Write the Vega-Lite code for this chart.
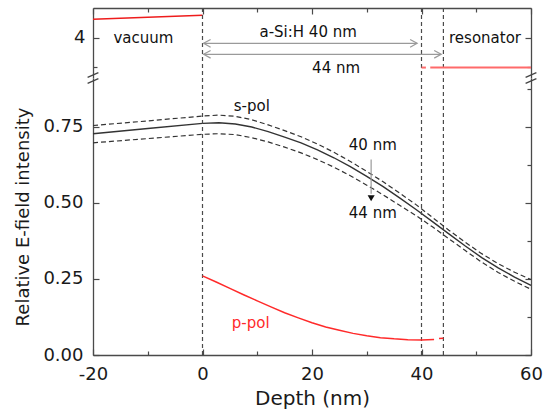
{
  "$schema": "https://vega.github.io/schema/vega-lite/v6.json",
  "padding": {"left": 14, "top": 7, "right": 8, "bottom": 5},
  "spacing": 0,
  "bounds": "flush",
  "background": "white",
  "config": {
    "font": "DejaVu Sans",
    "view": {"stroke": null},
    "axis": {
      "grid": false,
      "domainColor": "#4a4a4a",
      "domainWidth": 1.3,
      "tickColor": "#4a4a4a",
      "tickWidth": 1.2,
      "labelColor": "#1a1a1a",
      "titleColor": "#1a1a1a",
      "labelFont": "DejaVu Sans",
      "titleFont": "DejaVu Sans",
      "labelFontSize": 18,
      "titleFontWeight": "normal",
      "titleFontSize": 19,
      "labelFlush": false,
      "labelOverlap": false
    },
    "text": {"font": "DejaVu Sans", "fontSize": 15, "color": "#111111"}
  },
  "datasets": {
    "vlines": [{"x": 0}, {"x": 40}, {"x": 44}],
    "vac": [{"x": -20, "y": 4.322}, {"x": 0, "y": 4.391}],
    "res": [
      {"x": 40.0, "y": 3.49, "g": "a"}, {"x": 40.8, "y": 3.49, "g": "a"},
      {"x": 41.6, "y": 3.49, "g": "b"}, {"x": 60, "y": 3.49, "g": "b"}
    ],
    "arrows": [{"x": 0.2, "x2": 39.2, "y": 3.908}, {"x": 0.2, "x2": 43.6, "y": 3.719}],
    "heads": [
      {"x": 0.2, "y": 3.908, "dir": "l"}, {"x": 39.2, "y": 3.908, "dir": "r"},
      {"x": 0.2, "y": 3.719, "dir": "l"}, {"x": 43.6, "y": 3.719, "dir": "r"}
    ],
    "utxt": [
      {"x": -10.8, "y": 4.005, "label": "vacuum"},
      {"x": 19.3, "y": 4.103, "label": "a-Si:H 40 nm"},
      {"x": 24.4, "y": 3.488, "label": "44 nm"},
      {"x": 51.6, "y": 3.999, "label": "resonator"}
    ],
    "solid": [
      {"x": -20, "y": 0.727}, {"x": -10, "y": 0.744}, {"x": 0, "y": 0.761}, {"x": 3, "y": 0.763},
      {"x": 6, "y": 0.759}, {"x": 9, "y": 0.749}, {"x": 12, "y": 0.734}, {"x": 15, "y": 0.716},
      {"x": 18, "y": 0.697}, {"x": 21, "y": 0.674}, {"x": 24, "y": 0.648}, {"x": 27, "y": 0.619},
      {"x": 30, "y": 0.587}, {"x": 33, "y": 0.553}, {"x": 36, "y": 0.516}, {"x": 39, "y": 0.478},
      {"x": 42, "y": 0.438}, {"x": 45, "y": 0.398}, {"x": 48, "y": 0.358}, {"x": 51, "y": 0.32},
      {"x": 54, "y": 0.286}, {"x": 57, "y": 0.256}, {"x": 60, "y": 0.229}
    ],
    "d40": [
      {"x": -20, "y": 0.754}, {"x": -10, "y": 0.769}, {"x": 0, "y": 0.785}, {"x": 3, "y": 0.788},
      {"x": 6, "y": 0.784}, {"x": 9, "y": 0.773}, {"x": 12, "y": 0.756}, {"x": 15, "y": 0.737},
      {"x": 18, "y": 0.717}, {"x": 21, "y": 0.693}, {"x": 24, "y": 0.666}, {"x": 27, "y": 0.636},
      {"x": 30, "y": 0.603}, {"x": 33, "y": 0.569}, {"x": 36, "y": 0.532}, {"x": 39, "y": 0.494},
      {"x": 42, "y": 0.452}, {"x": 45, "y": 0.41}, {"x": 48, "y": 0.37}, {"x": 51, "y": 0.333},
      {"x": 54, "y": 0.3}, {"x": 57, "y": 0.272}, {"x": 60, "y": 0.248}
    ],
    "d44": [
      {"x": -20, "y": 0.697}, {"x": -10, "y": 0.711}, {"x": 0, "y": 0.725}, {"x": 3, "y": 0.727},
      {"x": 6, "y": 0.724}, {"x": 9, "y": 0.714}, {"x": 12, "y": 0.7}, {"x": 15, "y": 0.683},
      {"x": 18, "y": 0.664}, {"x": 21, "y": 0.642}, {"x": 24, "y": 0.617}, {"x": 27, "y": 0.589},
      {"x": 30, "y": 0.558}, {"x": 33, "y": 0.526}, {"x": 36, "y": 0.492}, {"x": 39, "y": 0.458},
      {"x": 42, "y": 0.421}, {"x": 45, "y": 0.382}, {"x": 48, "y": 0.343}, {"x": 51, "y": 0.305},
      {"x": 54, "y": 0.271}, {"x": 57, "y": 0.242}, {"x": 60, "y": 0.216}
    ],
    "ppol": [
      {"x": 0, "y": 0.26, "g": "a"}, {"x": 2.5, "y": 0.24, "g": "a"}, {"x": 5, "y": 0.219, "g": "a"},
      {"x": 7.5, "y": 0.198, "g": "a"}, {"x": 10, "y": 0.178, "g": "a"}, {"x": 12.5, "y": 0.158, "g": "a"},
      {"x": 15, "y": 0.139, "g": "a"}, {"x": 17.5, "y": 0.122, "g": "a"}, {"x": 20, "y": 0.106, "g": "a"},
      {"x": 22.5, "y": 0.092, "g": "a"}, {"x": 25, "y": 0.081, "g": "a"}, {"x": 27.5, "y": 0.071, "g": "a"},
      {"x": 30, "y": 0.063, "g": "a"}, {"x": 32.5, "y": 0.057, "g": "a"}, {"x": 35, "y": 0.053, "g": "a"},
      {"x": 37.5, "y": 0.05, "g": "a"}, {"x": 40, "y": 0.049, "g": "a"}, {"x": 42.3, "y": 0.051, "g": "a"},
      {"x": 43.2, "y": 0.054, "g": "b"}, {"x": 44, "y": 0.055, "g": "b"}
    ],
    "darrow": [{"x": 30.8, "y": 0.642, "y2": 0.53}],
    "tri": [{"x": 30.8, "y": 0.515}],
    "ltxt": [
      {"x": 9.0, "y": 0.818, "label": "s-pol"},
      {"x": 31.1, "y": 0.69, "label": "40 nm"},
      {"x": 31.1, "y": 0.467, "label": "44 nm"},
      {"x": 8.8, "y": 0.106, "label": "p-pol"}
    ],
    "brk": [{"x": -20, "y": 0.91}, {"x": 60, "y": 0.91}]
  },
  "vconcat": [
    {
      "width": 438,
      "height": 70,
      "resolve": {"axis": {"y": "independent"}},
      "layer": [
        {
          "layer": [
            {
              "data": {"name": "vac"},
              "mark": {"type": "line", "color": "#ee1c1c", "strokeWidth": 1.5},
              "encoding": {
                "x": {
                  "field": "x", "type": "quantitative",
                  "scale": {"domain": [-20, 60], "nice": false, "zero": false},
                  "axis": {
                    "orient": "top", "title": null, "labels": false,
                    "values": [-20, -10, 0, 10, 20, 30, 40, 50, 60],
                    "tickSize": {"condition": {"test": "datum.value % 20 === 0", "value": -6}, "value": -4}
                  }
                },
                "y": {
                  "field": "y", "type": "quantitative",
                  "scale": {"domain": [3.31, 4.517], "nice": false, "zero": false},
                  "axis": {
                    "orient": "left", "title": null, "values": [3.5, 4],
                    "labelExpr": "datum.value === 4 ? '4' : ''",
                    "labelPadding": 14,
                    "tickSize": {"condition": {"test": "datum.value === 4", "value": -6}, "value": -4}
                  }
                }
              }
            },
            {
              "data": {"name": "vlines"},
              "mark": {"type": "rule", "color": "#4a4a4a", "strokeDash": [4, 3], "strokeWidth": 1.2},
              "encoding": {"x": {"field": "x", "type": "quantitative"}}
            },
            {
              "data": {"name": "res"},
              "mark": {"type": "line", "color": "#ff6a6a", "strokeWidth": 2},
              "encoding": {
                "x": {"field": "x", "type": "quantitative"},
                "y": {"field": "y", "type": "quantitative"},
                "detail": {"field": "g"}
              }
            },
            {
              "data": {"name": "arrows"},
              "mark": {"type": "rule", "color": "#9a9a9a", "strokeWidth": 1.2},
              "encoding": {
                "x": {"field": "x", "type": "quantitative"},
                "x2": {"field": "x2"},
                "y": {"field": "y", "type": "quantitative"}
              }
            },
            {
              "data": {"name": "heads"},
              "mark": {"type": "point", "filled": false, "color": "#9a9a9a", "strokeWidth": 1.2, "size": 49, "opacity": 1},
              "encoding": {
                "x": {"field": "x", "type": "quantitative"},
                "y": {"field": "y", "type": "quantitative"},
                "shape": {
                  "field": "dir", "type": "nominal", "legend": null,
                  "scale": {"domain": ["l", "r"], "range": ["M2,-1.1L0,0L2,1.1", "M-2,-1.1L0,0L-2,1.1"]}
                }
              }
            },
            {
              "data": {"name": "utxt"},
              "mark": {"type": "text", "align": "center", "baseline": "middle"},
              "encoding": {
                "x": {"field": "x", "type": "quantitative"},
                "y": {"field": "y", "type": "quantitative"},
                "text": {"field": "label"}
              }
            }
          ]
        },
        {
          "data": {"name": "vac"},
          "mark": {"type": "point", "opacity": 0},
          "encoding": {
            "x": {"field": "x", "type": "quantitative"},
            "y": {
              "field": "y", "type": "quantitative",
              "axis": {
                "orient": "right", "title": null, "labels": false, "values": [3.5, 4],
                "tickSize": {"condition": {"test": "datum.value === 4", "value": -6}, "value": -4}
              }
            }
          }
        }
      ]
    },
    {
      "width": 438,
      "height": 277,
      "resolve": {"axis": {"y": "independent"}},
      "layer": [
        {
          "layer": [
            {
              "data": {"name": "solid"},
              "mark": {"type": "line", "color": "#333333", "strokeWidth": 1.4},
              "encoding": {
                "x": {
                  "field": "x", "type": "quantitative",
                  "scale": {"domain": [-20, 60], "nice": false, "zero": false},
                  "axis": {
                    "orient": "bottom", "title": "Depth (nm)", "titleFontSize": 20, "titlePadding": 3,
                    "values": [-20, -10, 0, 10, 20, 30, 40, 50, 60],
                    "labelExpr": "datum.value % 20 === 0 ? '' + datum.value : ''",
                    "labelPadding": 16,
                    "tickSize": {"condition": {"test": "datum.value % 20 === 0", "value": -6}, "value": -4}
                  }
                },
                "y": {
                  "field": "y", "type": "quantitative",
                  "scale": {"domain": [0, 0.91], "nice": false},
                  "axis": {
                    "orient": "left", "title": "Relative E-field intensity", "titleFontSize": 18, "titlePadding": 10,
                    "values": [0, 0.125, 0.25, 0.375, 0.5, 0.625, 0.75, 0.875],
                    "labelExpr": "(datum.value * 8) % 2 === 0 ? format(datum.value, '.2f') : ''",
                    "labelPadding": 16,
                    "tickSize": {"condition": {"test": "(datum.value * 8) % 2 === 0", "value": -6}, "value": -4}
                  }
                }
              }
            },
            {
              "data": {"name": "vlines"},
              "mark": {"type": "rule", "color": "#4a4a4a", "strokeDash": [4, 3], "strokeWidth": 1.2},
              "encoding": {"x": {"field": "x", "type": "quantitative"}}
            },
            {
              "data": {"name": "d40"},
              "mark": {"type": "line", "color": "#333333", "strokeWidth": 1.2, "strokeDash": [5, 3]},
              "encoding": {
                "x": {"field": "x", "type": "quantitative"},
                "y": {"field": "y", "type": "quantitative"}
              }
            },
            {
              "data": {"name": "d44"},
              "mark": {"type": "line", "color": "#333333", "strokeWidth": 1.2, "strokeDash": [5, 3]},
              "encoding": {
                "x": {"field": "x", "type": "quantitative"},
                "y": {"field": "y", "type": "quantitative"}
              }
            },
            {
              "data": {"name": "ppol"},
              "mark": {"type": "line", "color": "#ff2a2a", "strokeWidth": 1.5},
              "encoding": {
                "x": {"field": "x", "type": "quantitative"},
                "y": {"field": "y", "type": "quantitative"},
                "detail": {"field": "g"}
              }
            },
            {
              "data": {"name": "darrow"},
              "mark": {"type": "rule", "color": "#9a9a9a", "strokeWidth": 1.2},
              "encoding": {
                "x": {"field": "x", "type": "quantitative"},
                "y": {"field": "y", "type": "quantitative"},
                "y2": {"field": "y2"}
              }
            },
            {
              "data": {"name": "tri"},
              "mark": {"type": "point", "shape": "triangle-down", "filled": true, "color": "#111111", "size": 50, "opacity": 1},
              "encoding": {
                "x": {"field": "x", "type": "quantitative"},
                "y": {"field": "y", "type": "quantitative"}
              }
            },
            {
              "data": {"name": "ltxt"},
              "mark": {"type": "text", "align": "center", "baseline": "middle"},
              "encoding": {
                "x": {"field": "x", "type": "quantitative"},
                "y": {"field": "y", "type": "quantitative"},
                "text": {"field": "label"},
                "color": {"condition": {"test": "datum.label === 'p-pol'", "value": "#ff2a2a"}, "value": "#111111"}
              }
            },
            {
              "data": {"name": "brk"},
              "mark": {"type": "point", "shape": "M-0.9,-0.1L0.9,-0.9M-0.9,0.9L0.9,0.1", "filled": false, "color": "#444444", "strokeWidth": 1.3, "size": 144, "opacity": 1},
              "encoding": {
                "x": {"field": "x", "type": "quantitative"},
                "y": {"field": "y", "type": "quantitative"}
              }
            }
          ]
        },
        {
          "data": {"name": "solid"},
          "mark": {"type": "point", "opacity": 0},
          "encoding": {
            "x": {"field": "x", "type": "quantitative"},
            "y": {
              "field": "y", "type": "quantitative",
              "axis": {
                "orient": "right", "title": null, "labels": false,
                "values": [0, 0.125, 0.25, 0.375, 0.5, 0.625, 0.75, 0.875],
                "tickSize": {"condition": {"test": "(datum.value * 8) % 2 === 0", "value": -6}, "value": -4}
              }
            }
          }
        }
      ]
    }
  ]
}
